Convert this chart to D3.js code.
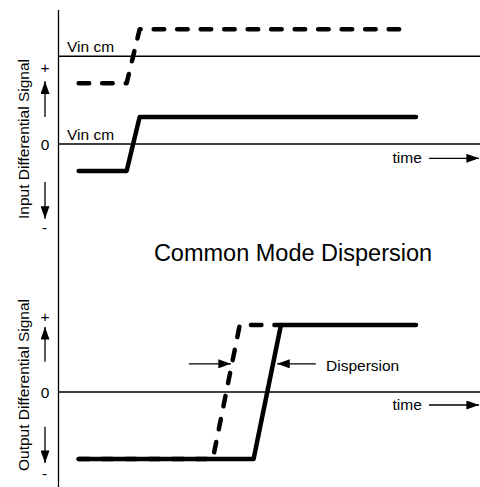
<!DOCTYPE html>
<html>
<head>
<meta charset="utf-8">
<script src="https://cdn.jsdelivr.net/npm/d3@7"></script>
<style>
  body { margin: 0; background: #fff; }
  text { font-family: "Liberation Sans", Arial, sans-serif; fill: #000; }
</style>
</head>
<body>
<div id="chart"></div>
<script>
const width = 480;
const height = 487;

// time in arbitrary units, signals in units of one differential swing
const timeDomain = [0, 10];
const inSolidTime = [0.48, 1.62, 1.93, 8.5];
const inSolidLevel = [-1, -1, 1, 1];
const inDashTime = [0.48, 1.62, 1.93, 8.38];
const inDashLevel = [2.25, 2.25, 4.25, 4.25];
const vinCmLevels = [0, 3.25];
const outSolidTime = [0.48, 4.64, 5.29, 8.5];
const outSolidLevel = [-1, -1, 1, 1];
const outDashTime = [0.48, 3.67, 4.31, 5.29];
const outDashLevel = [-1, -1, 1, 1];
const dispersionLevel = 0.42;
const dispersionTime = [3.1, 4.1, 5.2, 6.12]; // left tail, left tip, right tip, right tail

const x = d3.scaleLinear().domain(timeDomain).range([58.5, 479]);
const yIn = d3.scaleLinear().domain([-1, 1]).range([171, 117]);
const yOut = d3.scaleLinear().domain([-1, 1]).range([459, 325]);

const svg = d3.select("#chart").append("svg")
  .attr("width", width)
  .attr("height", height);

// arrow heads
const defs = svg.append("defs");
defs.append("marker")
  .attr("id", "head")
  .attr("markerUnits", "userSpaceOnUse")
  .attr("viewBox", "0 0 14 10")
  .attr("refX", 14).attr("refY", 5)
  .attr("markerWidth", 14).attr("markerHeight", 9)
  .attr("orient", "auto")
  .append("path").attr("d", "M0,0L14,5L0,10Z").attr("fill", "#000");

function arrow(x1, y1, x2, y2) {
  svg.append("line")
    .attr("x1", x1).attr("y1", y1)
    .attr("x2", x2).attr("y2", y2)
    .attr("stroke", "#000")
    .attr("stroke-width", 1.3)
    .attr("marker-end", "url(#head)");
}

// vertical axis
svg.append("line")
  .attr("x1", x(0)).attr("x2", x(0))
  .attr("y1", 10).attr("y2", height)
  .attr("stroke", "#000").attr("stroke-width", 1.3);

// reference lines (Vin cm levels and output zero)
vinCmLevels.forEach(v => {
  svg.append("line")
    .attr("x1", x(0)).attr("x2", width)
    .attr("y1", yIn(v)).attr("y2", yIn(v))
    .attr("stroke", "#000").attr("stroke-width", 1.3);
  svg.append("text")
    .attr("x", 67).attr("y", yIn(v) - 4.5)
    .attr("font-size", "15.5px")
    .text("Vin cm");
});
svg.append("line")
  .attr("x1", x(0)).attr("x2", width)
  .attr("y1", yOut(0)).attr("y2", yOut(0))
  .attr("stroke", "#000").attr("stroke-width", 1.3);

// signal traces
function trace(times, levels, y, dashed) {
  const line = d3.line().x(d => x(d[0])).y(d => y(d[1]));
  svg.append("path")
    .attr("d", line(d3.zip(times, levels)))
    .attr("fill", "none")
    .attr("stroke", "#000")
    .attr("stroke-width", 4.5)
    .attr("stroke-linecap", "round")
    .attr("stroke-linejoin", "round")
    .attr("stroke-dasharray", dashed ? "10.5,13" : null);
}
trace(inDashTime, inDashLevel, yIn, true);
trace(inSolidTime, inSolidLevel, yIn, false);
trace(outDashTime, outDashLevel, yOut, true);
trace(outSolidTime, outSolidLevel, yOut, false);

// time arrows
[[yIn, 163.3, 158.3], [yOut, 410, 405]].forEach(([y, tb, ay]) => {
  svg.append("text")
    .attr("x", 392.5).attr("y", tb)
    .attr("font-size", "15.5px")
    .text("time");
  arrow(429, ay, 479, ay);
});

// y labels with +/0/- markers
const panels = [
  { y: yIn, label: "Input Differential Signal", mid: 139, plus: 2.83, upTail: 1.0, upTip: 2.32, dnTail: -1.41, dnTip: -2.77, minus: -3.1 },
  { y: yOut, label: "Output Differential Signal", mid: 385, plus: 1.12, upTail: 0.45, upTip: 0.97, dnTail: -0.52, dnTip: -1.06, minus: -1.22 }
];
panels.forEach(p => {
  svg.append("text")
    .attr("transform", `translate(29,${p.mid}) rotate(-90)`)
    .attr("text-anchor", "middle")
    .attr("font-size", "15.5px")
    .text(p.label);
  svg.append("text")
    .attr("x", 45).attr("y", p.y(p.plus) + 5.5)
    .attr("text-anchor", "middle").attr("font-size", "15.5px").text("+");
  svg.append("text")
    .attr("x", 45).attr("y", p.y(0) + 5.5)
    .attr("text-anchor", "middle").attr("font-size", "15.5px").text("0");
  svg.append("text")
    .attr("x", 44.5).attr("y", p.y(p.minus) + 5.5)
    .attr("text-anchor", "middle").attr("font-size", "15.5px").text("-");
  arrow(45, p.y(p.upTail), 45, p.y(p.upTip));
  arrow(45, p.y(p.dnTail), 45, p.y(p.dnTip));
});

// dispersion arrows
arrow(x(dispersionTime[0]), yOut(dispersionLevel), x(dispersionTime[1]), yOut(dispersionLevel));
arrow(x(dispersionTime[3]), yOut(dispersionLevel), x(dispersionTime[2]), yOut(dispersionLevel));
svg.append("text")
  .attr("x", 326).attr("y", yOut(dispersionLevel) + 7.5)
  .attr("font-size", "15.5px")
  .text("Dispersion");

// title
svg.append("text")
  .attr("x", 293).attr("y", 261)
  .attr("text-anchor", "middle")
  .attr("font-size", "23.5px")
  .text("Common Mode Dispersion");
</script>
</body>
</html>
